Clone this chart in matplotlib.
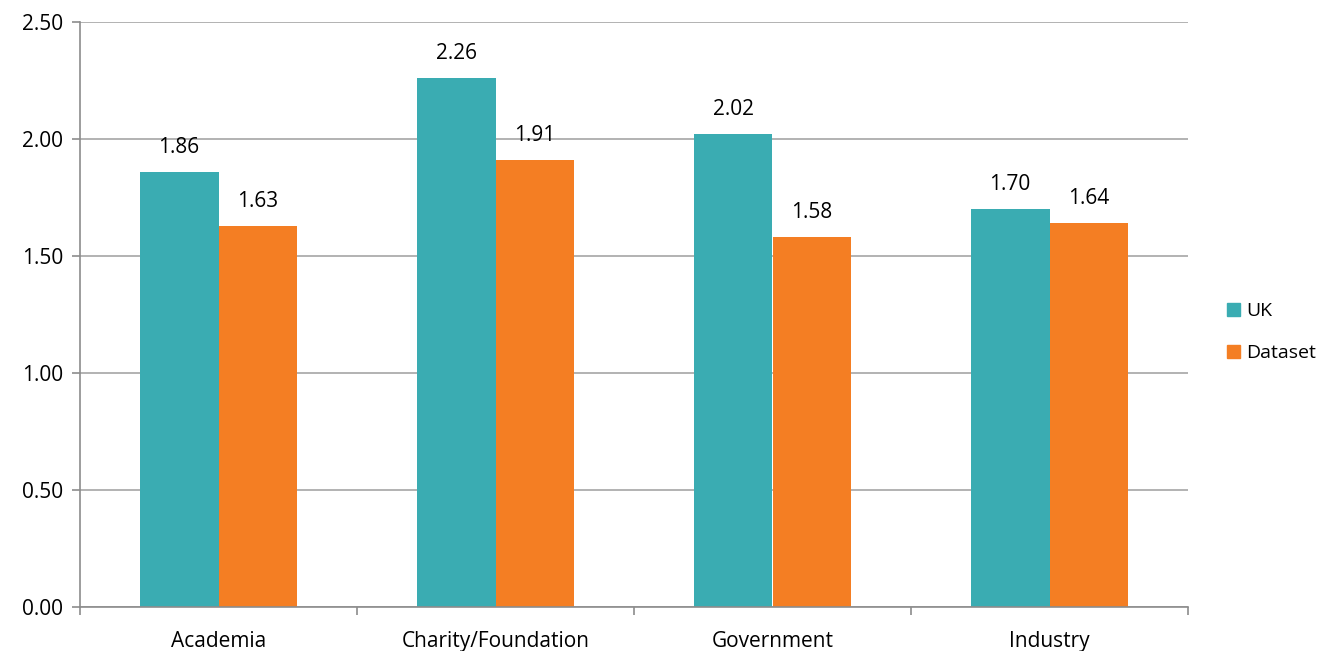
import matplotlib
matplotlib.use("Agg")
import matplotlib.pyplot as plt
from matplotlib.patches import Patch
import numpy as np

categories = ["Academia", "Charity/Foundation", "Government", "Industry"]
uk_values = [1.86, 2.26, 2.02, 1.70]
dataset_values = [1.63, 1.91, 1.58, 1.64]
series_names = ["UK", "Dataset"]
yticks = [0.0, 0.5, 1.0, 1.5, 2.0, 2.5]

teal = "#3AACB2"
orange = "#F47E23"
grid_c = "#A6A6A6"
axis_c = "#8C8C8C"
fs = 15

plt.rcParams['font.family'] = ['Open Sans', 'DejaVu Sans']
fig = plt.figure(figsize=(13.29, 6.51), dpi=100)
ax = fig.add_axes([80/1329, 44/651, (1188-80)/1329, (607-22)/651])

x = np.arange(len(categories))
w = 0.285
b1 = ax.bar(x - w/2, uk_values, w, color=teal, zorder=3)
b2 = ax.bar(x + w/2, dataset_values, w, color=orange, zorder=3)

for bars, vals in ((b1, uk_values), (b2, dataset_values)):
    for r, v in zip(bars, vals):
        ax.annotate(f"{v:.2f}", (r.get_x() + r.get_width()/2, v),
                    xytext=(0, 10), textcoords="offset points",
                    ha="center", va="bottom", fontsize=fs, color="#000000")

ax.set_xlim(-0.5, len(categories) - 0.5)
ax.set_ylim(0, 2.5)
ax.set_yticks(yticks)
ax.set_yticklabels([f"{t:.2f}" for t in yticks], fontsize=fs)
ax.set_xticks(x)
ax.set_xticklabels(categories, fontsize=fs)
ax.set_xticks(np.arange(-0.5, len(categories)), minor=True)
ax.tick_params(axis="x", which="major", length=0, pad=17)
ax.tick_params(axis="x", which="minor", length=6, color=axis_c, width=1.2, direction="out")
ax.tick_params(axis="y", length=6, color=axis_c, width=1.2, pad=6)

ax.grid(axis="y", color=grid_c, linewidth=1.2, zorder=0)
for s in ("top", "right"):
    ax.spines[s].set_visible(False)
for s in ("left", "bottom"):
    ax.spines[s].set_color(axis_c)
    ax.spines[s].set_linewidth(1.2)
    ax.spines[s].set_zorder(4)

handles = [Patch(color=teal, label=series_names[0]), Patch(color=orange, label=series_names[1])]
fig.legend(handles=handles, loc="center left", bbox_to_anchor=(1227/1329, 0.49),
           frameon=False, fontsize=14, handlelength=0.65, handleheight=0.65,
           handletextpad=0.35, labelspacing=1.25, borderpad=0, borderaxespad=0)

fig.savefig("out.png", dpi=100)
